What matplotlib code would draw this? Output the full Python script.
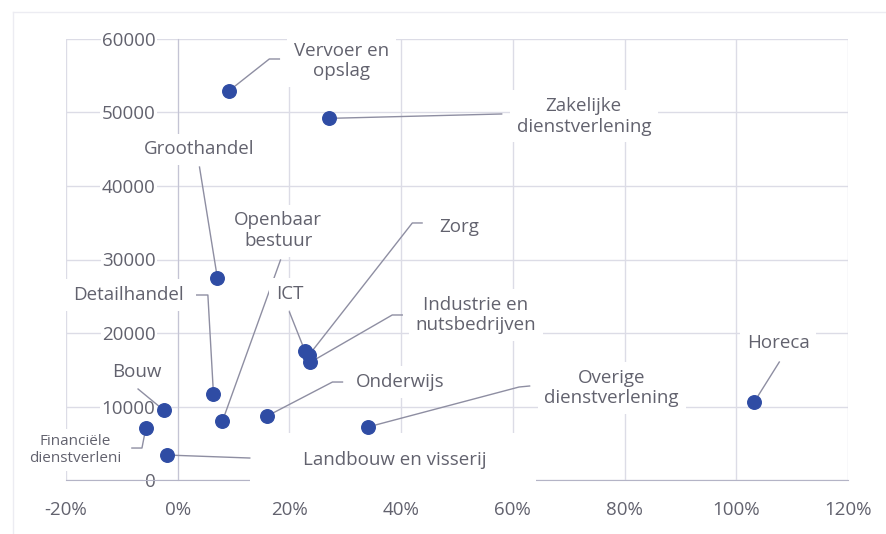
import matplotlib
matplotlib.use("Agg")
import matplotlib.pyplot as plt
from matplotlib.lines import Line2D
from matplotlib.patches import Rectangle

plt.rcParams['font.family'] = ['Open Sans', 'DejaVu Sans']
plt.rcParams['axes.unicode_minus'] = False

# sectors: growth (x, share) and number of jobs (y)
sectors = ["Vervoer en\nopslag", "Zakelijke\ndienstverlening", "Groothandel",
           "Openbaar\nbestuur", "ICT", "Zorg", "Industrie en\nnutsbedrijven",
           "Detailhandel", "Bouw", "Financiële\ndienstverleni",
           "Landbouw en visserij", "Onderwijs", "Overige\ndienstverlening", "Horeca"]
growth = [0.091, 0.270, 0.071, 0.080, 0.228, 0.235, 0.237,
          0.064, -0.025, -0.057, -0.020, 0.160, 0.340, 1.032]
jobs = [52900, 49200, 27500, 8000, 17500, 17000, 16000,
        11700, 9500, 7100, 3400, 8700, 7200, 10600]

x_ticks = [-0.2, 0.0, 0.2, 0.4, 0.6, 0.8, 1.0, 1.2]
x_tick_labels = ["-20%", "0%", "20%", "40%", "60%", "80%", "100%", "120%"]
y_ticks = [0, 10000, 20000, 30000, 40000, 50000, 60000]

# label layout (data coords): text centre, then leader points from label towards the dot
label_xy = [(0.293, 57000), (0.727, 49500), (0.0375, 45000), (0.180, 33900),
            (0.200, 25300), (0.504, 34400), (0.534, 22450), (-0.089, 25170),
            (-0.073, 14700), (-0.184, 4080), (0.389, 2720), (0.398, 13330),
            (0.777, 12520), (1.075, 18640)]
leader_pts = [[(0.182, 57280), (0.164, 57280)],
              [(0.580, 49800)],
              [(0.039, 42580)],
              [(0.184, 29930)],
              [(0.200, 22860)],
              [(0.4375, 34970), (0.420, 34970)],
              [(0.402, 22450), (0.384, 22450)],
              [(0.034, 25170), (0.054, 25170)],
              [(-0.071, 12380)],
              [(-0.082, 4350), (-0.064, 4350)],
              [(0.129, 2990)],
              [(0.295, 13330), (0.277, 13330)],
              [(0.630, 12790), (0.611, 12650)],
              [(1.077, 16050)]]

TEXT = '#62626e'
GRID = '#dcdce6'
LEADER = '#8e8ea2'
DOT = '#2f4ca4'

fig = plt.figure(figsize=(8.87, 5.34), dpi=100)
ax = fig.add_axes([66/887, 1 - 480/534, (848 - 66)/887, (480 - 39)/534])

# faint chart-area border (top and left)
fig.add_artist(Line2D([13/887, 1], [1 - 12/534, 1 - 12/534], color='#ececf2', lw=1))
fig.add_artist(Line2D([13/887, 13/887], [0, 1 - 12/534], color='#ececf2', lw=1))

ax.set_xlim(-0.2, 1.2)
ax.set_ylim(0, 60000)
ax.set_xticks(x_ticks)
ax.set_xticklabels(x_tick_labels)
ax.set_yticks(y_ticks)
ax.set_yticklabels([str(v) for v in y_ticks])

ax.grid(True, color=GRID, lw=1)
ax.set_axisbelow(True)
for s in ['top', 'right']:
    ax.spines[s].set_visible(False)
ax.spines['left'].set_position(('data', 0))
ax.spines['left'].set_color('#c4c4d4')
ax.spines['bottom'].set_color('#b4b4c6')
ax.tick_params(axis='both', length=0, labelsize=13.5, labelcolor=TEXT)
ax.tick_params(axis='x', pad=15)
ax.tick_params(axis='y', pad=16)
for lbl in ax.get_yticklabels():
    lbl.set_bbox(dict(facecolor='white', edgecolor='none', pad=1))

# the wide label box of "Landbouw en visserij" hides part of the x axis line
ax.add_patch(Rectangle((0.129, -950), 0.512, 7350, facecolor='white',
                       edgecolor='none', zorder=2.8, clip_on=False))

# leader lines
for i in range(len(sectors)):
    pts = leader_pts[i] + [(growth[i], jobs[i])]
    ax.plot([p[0] for p in pts], [p[1] for p in pts], color=LEADER, lw=1,
            zorder=3, clip_on=False)

ax.scatter(growth, jobs, s=95, color=DOT, zorder=4, clip_on=False)

for i, name in enumerate(sectors):
    size = 11 if name.startswith("Financi") else 13.5
    ax.text(label_xy[i][0], label_xy[i][1], name, ha='center', va='center',
            fontsize=size, color=TEXT, linespacing=1.2, zorder=5,
            bbox=dict(boxstyle='square,pad=0.35', facecolor='white', edgecolor='none'))

fig.savefig("out.png", dpi=100)
